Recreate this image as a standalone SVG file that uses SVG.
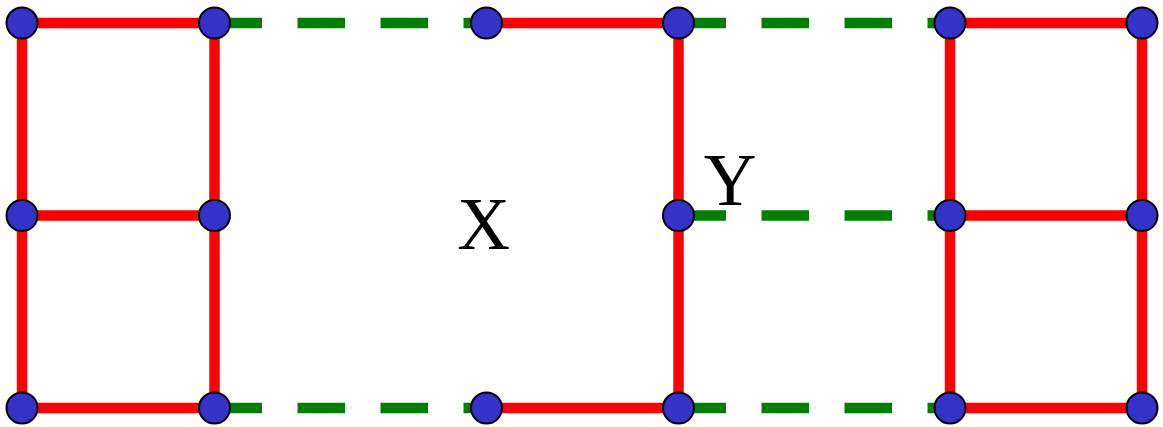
<svg xmlns="http://www.w3.org/2000/svg" width="1163" height="427" viewBox="0 0 1163 427">
<style>
.red{stroke:#ff0000;stroke-width:10.5;fill:none}
.green{stroke:#008000;stroke-width:10.5;fill:none;stroke-dasharray:47.5 35.5}
.node{fill:#3333cc;stroke:#000;stroke-width:2}
.lbl{font-family:"Liberation Serif",serif;font-size:73px;fill:#000;text-anchor:middle}
</style>
<rect width="1163" height="427" fill="#fff"/>
<g id="connectors">
<line class="green" x1="214.5" y1="23" x2="486.5" y2="23"/>
<line class="green" x1="678.5" y1="23" x2="950" y2="23"/>
<line class="green" x1="678.5" y1="215.5" x2="950" y2="215.5"/>
<line class="green" x1="214.5" y1="408" x2="486.5" y2="408"/>
<line class="green" x1="678.5" y1="408" x2="950" y2="408"/>
<line class="red" x1="22" y1="23" x2="214.5" y2="23"/>
<line class="red" x1="22" y1="215.5" x2="214.5" y2="215.5"/>
<line class="red" x1="22" y1="408" x2="214.5" y2="408"/>
<line class="red" x1="22" y1="23" x2="22" y2="408"/>
<line class="red" x1="214.5" y1="23" x2="214.5" y2="408"/>
<line class="red" x1="486.5" y1="23" x2="678.5" y2="23"/>
<line class="red" x1="486.5" y1="408" x2="678.5" y2="408"/>
<line class="red" x1="678.5" y1="23" x2="678.5" y2="408"/>
<line class="red" x1="950" y1="23" x2="1142" y2="23"/>
<line class="red" x1="950" y1="215.5" x2="1142" y2="215.5"/>
<line class="red" x1="950" y1="408" x2="1142" y2="408"/>
<line class="red" x1="950" y1="23" x2="950" y2="408"/>
<line class="red" x1="1142" y1="23" x2="1142" y2="408"/>
</g>
<g id="n1"><circle class="node" cx="22" cy="23" r="15.5"/></g>
<g id="n2"><circle class="node" cx="214.5" cy="23" r="15.5"/></g>
<g id="n3"><circle class="node" cx="486.5" cy="23" r="15.5"/></g>
<g id="n4"><circle class="node" cx="678.5" cy="23" r="15.5"/></g>
<g id="n5"><circle class="node" cx="950" cy="23" r="15.5"/></g>
<g id="n6"><circle class="node" cx="1142" cy="23" r="15.5"/></g>
<g id="n7"><circle class="node" cx="22" cy="215.5" r="15.5"/></g>
<g id="n8"><circle class="node" cx="214.5" cy="215.5" r="15.5"/></g>
<g id="n9"><circle class="node" cx="678.5" cy="215.5" r="15.5"/></g>
<g id="n10"><circle class="node" cx="950" cy="215.5" r="15.5"/></g>
<g id="n11"><circle class="node" cx="1142" cy="215.5" r="15.5"/></g>
<g id="n12"><circle class="node" cx="22" cy="408" r="15.5"/></g>
<g id="n13"><circle class="node" cx="214.5" cy="408" r="15.5"/></g>
<g id="n14"><circle class="node" cx="486.5" cy="408" r="15.5"/></g>
<g id="n15"><circle class="node" cx="678.5" cy="408" r="15.5"/></g>
<g id="n16"><circle class="node" cx="950" cy="408" r="15.5"/></g>
<g id="n17"><circle class="node" cx="1142" cy="408" r="15.5"/></g>
<g id="labelX"><text class="lbl" x="483.5" y="249">X</text></g>
<g id="labelY"><text class="lbl" x="730" y="205">Y</text></g>
</svg>
